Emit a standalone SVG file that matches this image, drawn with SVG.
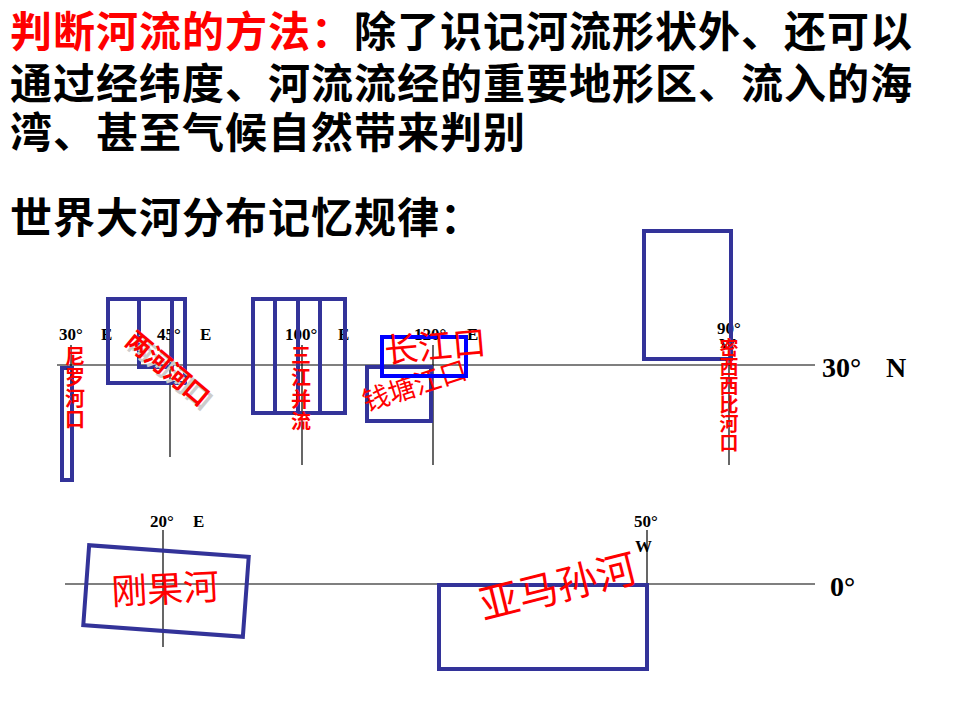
<svg xmlns="http://www.w3.org/2000/svg" width="960" height="720" viewBox="0 0 960 720">
<style>
.h{font-family:"Noto Sans CJK SC","Noto Sans",sans-serif;font-weight:bold;font-size:42px;letter-spacing:1px;fill:#000}
.r{fill:#ff0000}
.lb{font-family:"Liberation Serif",serif;font-weight:bold;font-size:17px;fill:#000}
.big{font-family:"Liberation Serif",serif;font-weight:bold;font-size:28px;fill:#000}
.ln{stroke:#000;stroke-width:1.2;fill:none}
.bx{stroke:#333399;stroke-width:4;fill:none}
.bb{stroke:#0000ff;stroke-width:4;fill:none}
.cn{font-family:"Noto Sans CJK SC",sans-serif;fill:#ff0000}
.cb{font-weight:bold}
</style>
<rect width="960" height="720" fill="#fff"/>
<g id="title">
<text class="h" x="10" y="47"><tspan class="r">判断河流的方法：</tspan>除了识记河流形状外、还可以</text>
<text class="h" x="10" y="99">通过经纬度、河流流经的重要地形区、流入的海</text>
<text class="h" x="10" y="148">湾、甚至气候自然带来判别</text>
<text class="h" x="10" y="233">世界大河分布记忆规律：</text>
</g>
<g id="connectors">
<line class="ln" x1="57" y1="365" x2="815" y2="365"/>
<line class="ln" x1="71" y1="345" x2="71" y2="462"/>
<line class="ln" x1="170" y1="330" x2="170" y2="457"/>
<line class="ln" x1="302" y1="345" x2="302" y2="465"/>
<line class="ln" x1="433" y1="345" x2="433" y2="465"/>
<line class="ln" x1="729" y1="345" x2="729" y2="465"/>
<line class="ln" x1="65" y1="584" x2="815" y2="584"/>
<line class="ln" x1="163" y1="530" x2="163" y2="647"/>
<line class="ln" x1="647" y1="530" x2="647" y2="584"/>
</g>
<g id="axis-labels">
<text class="lb" x="59" y="340">30°</text><text class="lb" x="101" y="340">E</text>
<text class="lb" x="157" y="340">45°</text><text class="lb" x="200" y="340">E</text>
<text class="lb" x="285" y="340">100°</text><text class="lb" x="338" y="340">E</text>
<text class="lb" x="414" y="340">120°</text><text class="lb" x="467" y="340">E</text>
<text class="lb" x="717" y="334">90°</text>
<text class="lb" x="719" y="350">W</text>
<text class="big" x="822" y="377">30°</text><text class="big" x="886" y="377">N</text>
<text class="lb" x="150" y="527">20°</text><text class="lb" x="193" y="527">E</text>
<text class="lb" x="634" y="527">50°</text>
<text class="lb" x="635" y="552">W</text>
<text class="big" x="830" y="596">0°</text>
</g>
<g id="nile">
<rect class="bx" x="62" y="368" width="10" height="112"/>
<text class="cn cb" font-size="20" text-anchor="middle"><tspan x="75" y="364">尼</tspan><tspan x="75" y="385">罗</tspan><tspan x="75" y="406">河</tspan><tspan x="75" y="427">口</tspan></text>
</g>
<g id="two-rivers">
<rect class="bx" x="108" y="299" width="77" height="84"/>
<rect class="bx" x="139" y="299" width="33" height="68"/>
<text class="cn cb" font-size="25" text-anchor="middle" dominant-baseline="central" transform="translate(172,371) rotate(40)" style="fill:#cccccc">两河河口</text>
<text class="cn cb" font-size="25" text-anchor="middle" dominant-baseline="central" transform="translate(169,367) rotate(40)">两河河口</text>
</g>
<g id="three-rivers">
<rect class="bx" x="253" y="299" width="92" height="114"/>
<line class="bx" x1="275" y1="299" x2="275" y2="413"/>
<line class="bx" x1="298" y1="299" x2="298" y2="413"/>
<line class="bx" x1="320" y1="299" x2="320" y2="413"/>
<text class="cn cb" font-size="20" text-anchor="middle"><tspan x="301" y="363">三</tspan><tspan x="301" y="385">江</tspan><tspan x="301" y="407">并</tspan><tspan x="301" y="429">流</tspan></text>
</g>
<g id="qiantang">
<rect class="bx" x="367" y="367" width="64" height="54"/>
<text class="cn" font-size="27" text-anchor="middle" dominant-baseline="central" transform="translate(414,384) rotate(-18)">钱塘江口</text>
</g>
<g id="yangtze">
<rect class="bb" x="382" y="337" width="84" height="39"/>
<text class="cn" font-size="34" text-anchor="middle" dominant-baseline="central" transform="translate(435,344) rotate(-5)">长江口</text>
</g>
<g id="mississippi">
<rect class="bx" x="644" y="231" width="87" height="128"/>
<text class="cn cb" font-size="19" text-anchor="middle"><tspan x="729" y="355">密</tspan><tspan x="729" y="374">西</tspan><tspan x="729" y="393">西</tspan><tspan x="729" y="412">比</tspan><tspan x="729" y="431">河</tspan><tspan x="729" y="450">口</tspan></text>
</g>
<g id="congo">
<rect class="bx" x="-80" y="-40" width="160" height="80" transform="translate(166,591) rotate(4.2)"/>
<text class="cn" font-size="36" text-anchor="middle" dominant-baseline="central" transform="translate(165,586) rotate(-3)">刚果河</text>
</g>
<g id="amazon">
<rect class="bx" x="439" y="585" width="208" height="84"/>
<text class="cn" font-size="40" text-anchor="middle" dominant-baseline="central" transform="translate(557,584) rotate(-14)">亚马孙河</text>
</g>
</svg>
